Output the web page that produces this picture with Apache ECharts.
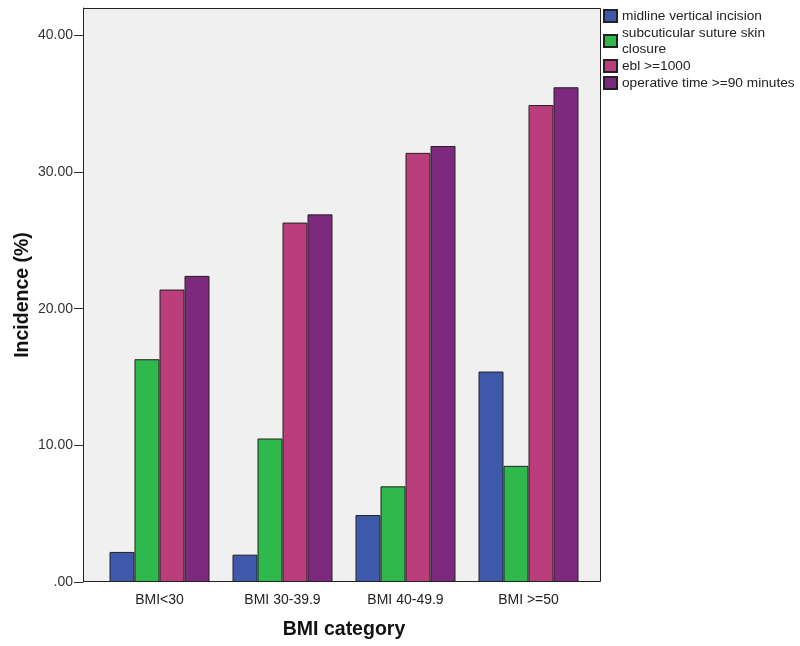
<!DOCTYPE html>
<html>
<head>
<meta charset="utf-8">
<script src="https://cdn.jsdelivr.net/npm/echarts@6/dist/echarts.min.js"></script>
<style>html,body{margin:0;padding:0;background:#fff}#c{width:800px;height:646px}</style>
</head>
<body>
<div id="c"></div>
<script>
const categories = ['BMI<30', 'BMI 30-39.9', 'BMI 40-49.9', 'BMI >=50'];
const seriesNames = ['midline vertical incision', 'subcuticular suture skin\nclosure', 'ebl >=1000', 'operative time >=90 minutes'];
const midline = [2.2, 2.0, 4.9, 15.4];
const subcuticular = [16.3, 10.5, 7.0, 8.5];
const ebl = [21.4, 26.3, 31.4, 34.9];
const operative = [22.4, 26.9, 31.9, 36.2];
const yTicks = [0, 10, 20, 30, 40];
const colors = ['#3f59aa', '#2fb84b', '#bb3e7c', '#7d2a7e'];

const values = [midline, subcuticular, ebl, operative];
const font = 'Liberation Sans, Arial, sans-serif';

const chart = echarts.init(document.getElementById('c'));
chart.setOption({
  backgroundColor: '#fff',
  animation: false,
  textStyle: { fontFamily: font },
  graphic: [{
    type: 'rect', z: -10,
    shape: { x: 83.5, y: 8.5, width: 517, height: 573 },
    style: { fill: '#f0f0f0', stroke: '#222', lineWidth: 1 }
  }],
  legend: {
    orient: 'vertical', left: 603, top: 8, itemGap: 1, padding: 0,
    itemWidth: 13, itemHeight: 12, icon: 'rect',
    textStyle: { fontSize: 13.7, color: '#222', lineHeight: 16, fontFamily: font },
    data: seriesNames
  },
  grid: { left: 98, right: 210, top: 8, bottom: 64, containLabel: false },
  xAxis: {
    type: 'category', data: categories,
    name: 'BMI category', nameLocation: 'middle', nameGap: 38,
    nameTextStyle: { fontSize: 19.5, fontWeight: 'bold', color: '#111', fontFamily: font },
    axisLine: { show: false },
    axisTick: { alignWithLabel: true, length: 9, lineStyle: { color: '#333' } },
    axisLabel: { fontSize: 14, color: '#222', margin: 11 }
  },
  yAxis: {
    type: 'value', min: 0, max: 42, interval: 10, offset: 15,
    name: 'Incidence (%)', nameLocation: 'middle', nameGap: 50, nameRotate: 90,
    nameMoveOverlap: false,
    nameTextStyle: { fontSize: 19.5, fontWeight: 'bold', color: '#111', fontFamily: font },
    splitLine: { show: false },
    axisLine: { show: true, lineStyle: { color: '#222' } },
    axisTick: { show: true, length: 9, lineStyle: { color: '#333' }, customValues: yTicks },
    axisLabel: {
      fontSize: 14, color: '#333', margin: 10, customValues: yTicks,
      formatter: v => v === 0 ? '.00' : v.toFixed(2)
    }
  },
  series: values.map((d, i) => ({
    type: 'bar', name: seriesNames[i], data: d,
    barWidth: 25, barGap: '0%',
    itemStyle: { color: colors[i], borderColor: '#222', borderWidth: 1 }
  }))
});
</script>
</body>
</html>
